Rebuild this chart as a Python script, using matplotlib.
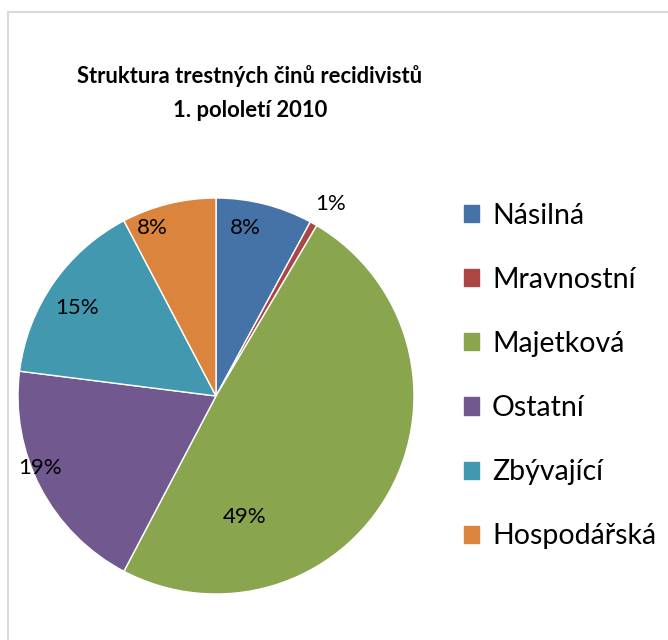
import numpy as np
import matplotlib
matplotlib.use('Agg')
import matplotlib.pyplot as plt
from matplotlib.patches import Rectangle

plt.rcParams['font.family'] = ['Lato', 'DejaVu Sans']

# data
categories = ['Násilná', 'Mravnostní', 'Majetková', 'Ostatní', 'Zbývající', 'Hospodářská']
shares = [7.9, 0.6, 49.2, 19.3, 15.3, 7.7]
colors = ['#4572A7', '#AA4643', '#89A54E', '#71588F', '#4198AF', '#DB843D']
title = 'Struktura trestných činů recidivistů\n1. pololetí 2010'

# label placement (angle offset from slice middle in degrees, radius)
label_pos = [(4.4, 0.86), (-1.2, 1.13), (-47.5, 0.63), (-5.2, 0.96), (2.2, 0.83), (7, 0.91)]

fig = plt.figure(figsize=(6.68, 6.4), dpi=100)

# chart area border
fig.patches.append(Rectangle((8 / 668, -0.1), 1.2, 1 - 12 / 640 + 0.1,
                             transform=fig.transFigure, fill=False,
                             edgecolor='#d9d9d9', linewidth=1.5))

ax = fig.add_axes([18 / 668, 46 / 640, 396 / 668, 396 / 640])
wedges, _ = ax.pie(shares, colors=colors, startangle=90, counterclock=False,
                   radius=1, wedgeprops=dict(edgecolor='white', linewidth=1))
ax.set_xlim(-1, 1)
ax.set_ylim(-1, 1)
ax.set_aspect('equal')

for w, v, (off, r) in zip(wedges, shares, label_pos):
    mid = np.deg2rad((w.theta1 + w.theta2) / 2 + off)
    ax.text(r * np.cos(mid), r * np.sin(mid), f'{v:.0f}%',
            ha='center', va='center', fontsize=16, color='black')

fig.text(250 / 668, 1 - 93 / 640, title, ha='center', va='center',
         fontsize=15.8, fontweight='bold', linespacing=1.75)

handles = [Rectangle((0, 0), 1, 1, color=c) for c in colors]
fig.legend(handles, categories, loc='upper left',
           bbox_to_anchor=(438 / 668, 1 - 177 / 640), frameon=False,
           fontsize=20.5, handlelength=0.55, handleheight=0.55,
           handletextpad=0.45, labelspacing=1.34)

fig.savefig('out.png', dpi=100)
